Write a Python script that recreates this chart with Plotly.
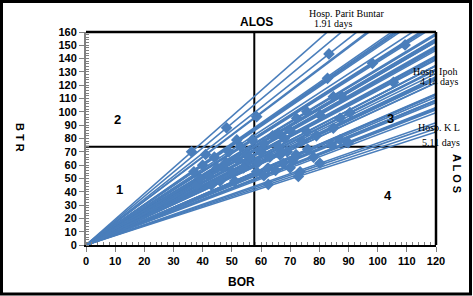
import plotly.graph_objects as go

# ---- data (BOR %, BTR) ----
bor = [109.4, 83.3, 98.2, 82.8, 105.4, 84.8, 87.7, 75.7, 80.2, 90.5,
       87.1, 84.8, 75.7, 87.1, 89.9, 84.2, 80.2, 73.4, 62.5, 72.8,
       67.6, 62.4, 55.0, 58.5, 66.5, 48.2, 58.5, 72.2, 65.9, 36.2,
       51.7, 57.0, 38.0, 40.0, 42.0, 44.0, 46.0, 47.0, 49.0, 50.0,
       52.0, 53.0, 55.0, 60.0, 61.0, 63.0, 64.0, 66.0, 68.0, 69.0,
       70.0, 71.0, 74.0, 76.0, 78.0, 79.0, 37.0, 39.0, 41.0, 43.0,
       45.0, 48.0, 51.0, 54.0, 56.0, 59.0, 61.0, 65.0, 67.0, 70.0, 72.0]
btr = [150.3, 143.5, 136.5, 125.2, 122.2, 111.4, 111.5, 100.2, 97.7, 99.4,
       95.2, 87.7, 85.1, 78.9, 76.9, 75.1, 61.4, 55.0, 45.5, 51.5,
       61.4, 57.8, 61.8, 55.0, 67.6, 88.0, 96.4, 95.2, 83.9, 70.0,
       78.9, 78.9, 45.0, 60.0, 52.0, 66.0, 48.0, 58.0, 70.0, 55.0,
       64.0, 74.0, 68.0, 70.0, 76.0, 66.0, 82.0, 74.0, 80.0, 70.0,
       86.0, 64.0, 78.0, 72.0, 66.0, 82.0, 55.0, 50.0, 68.0, 45.0,
       58.0, 62.0, 48.0, 58.0, 66.0, 62.0, 52.0, 56.0, 70.0, 58.0, 68.0]

x_max = 120
y_max = 160
mean_bor = 57.7
mean_btr = 73.8

x_ticks = list(range(0, 121, 10))
y_ticks = list(range(0, 161, 10))

quadrants = ["1", "2", "3", "4"]
hosp_labels = [("Hosp. Parit Buntar", "1.91 days"),
               ("Hosp. Ipoh", "4.14 days"),
               ("Hosp. K L", "5.11 days")]

# ---- layout geometry ----
W, H = 473, 296
L, R, T, B = 86, 37, 32, 51
PW = W - L - R
PH = H - T - B


def px(x):
    return (x - L) / PW


def py(y):
    return (H - B - y) / PH


BLUE = "#4A7EBB"

# rays from origin through each hospital
lx, ly = [], []
for b, t in zip(bor, btr):
    s = t / b
    lx += [0, x_max, None]
    ly += [0, s * x_max, None]

fig = go.Figure()
fig.add_trace(go.Scatter(x=lx, y=ly, mode="lines",
                         line=dict(color=BLUE, width=1.6),
                         hoverinfo="skip", showlegend=False))
fig.add_trace(go.Scatter(x=bor, y=btr, mode="markers",
                         marker=dict(symbol="diamond", size=9, color=BLUE),
                         showlegend=False))

tickfont = dict(family="Liberation Sans", size=11, color="black", weight="bold")

fig.update_xaxes(range=[0, x_max], tickvals=x_ticks, showgrid=False, zeroline=False,
                 showline=True, linecolor="black", linewidth=2,
                 ticks="outside", ticklen=5, tickcolor="#808080", tickwidth=1,
                 minor=dict(dtick=2, ticks="inside", ticklen=3, tickcolor="#808080"),
                 tickfont=tickfont, fixedrange=True)
fig.update_yaxes(range=[0, y_max], tickvals=y_ticks, showgrid=False, zeroline=False,
                 showline=True, linecolor="#808080", linewidth=2,
                 ticks="outside", ticklen=5, tickcolor="#808080", tickwidth=1,
                 minor=dict(dtick=2, ticks="inside", ticklen=3, tickcolor="#808080"),
                 tickfont=tickfont, fixedrange=True)

shapes = [
    # quadrant lines (under the data)
    dict(type="line", xref="x", yref="y", x0=mean_bor, x1=mean_bor, y0=0, y1=y_max,
         line=dict(color="black", width=2), layer="below"),
    dict(type="line", xref="x", yref="y", x0=0, x1=x_max, y0=mean_btr, y1=mean_btr,
         line=dict(color="black", width=2), layer="below"),
    # top and right frame of plot
    dict(type="line", xref="paper", yref="paper", x0=0, x1=1, y0=1, y1=1,
         line=dict(color="black", width=2.5)),
    dict(type="line", xref="paper", yref="paper", x0=1, x1=1, y0=0, y1=1,
         line=dict(color="black", width=2.5)),
    # outer border of the picture
    dict(type="rect", xref="paper", yref="paper",
         x0=px(1.5), x1=px(W - 2.5), y0=py(H - 2), y1=py(1.5),
         line=dict(color="black", width=3)),
]

bold = dict(family="Liberation Sans", color="black", weight="bold")
serif = dict(family="Liberation Serif", size=10, color="black")

ann = []


def add(text, x, y, font, xanchor="center", angle=0):
    ann.append(dict(text=text, x=px(x), y=py(y), xref="paper", yref="paper",
                    showarrow=False, xanchor=xanchor, yanchor="middle",
                    font=font, textangle=angle))


add("ALOS", 256, 22, dict(bold, size=12))
add("BOR", 241, 282, dict(bold, size=12))
add("B T R", 20, 137, dict(bold, size=11), angle=90)
add("A L O S", 457, 173, dict(bold, size=11), angle=90)
add(quadrants[0], 119, 189, dict(bold, size=13))
add(quadrants[1], 117, 119, dict(bold, size=13))
add(quadrants[2], 390, 118, dict(bold, size=13))
add(quadrants[3], 388, 195, dict(bold, size=13))

add(hosp_labels[0][0], 307, 13, serif, xanchor="left")
add(hosp_labels[0][1], 312, 24, serif, xanchor="left")
add(hosp_labels[1][0], 459, 71, serif, xanchor="right")
add(hosp_labels[1][1], 460, 82, serif, xanchor="right")
add(hosp_labels[2][0], 462, 128, serif, xanchor="right")
add(hosp_labels[2][1], 462, 142, serif, xanchor="right")

fig.update_layout(width=W, height=H, margin=dict(l=L, r=R, t=T, b=B),
                  paper_bgcolor="white", plot_bgcolor="white",
                  shapes=shapes, annotations=ann, showlegend=False)

fig.write_html("out.html",
               config={"displayModeBar": False},
               post_script="document.body.style.margin='0';"
                           "document.body.style.overflow='hidden';")
